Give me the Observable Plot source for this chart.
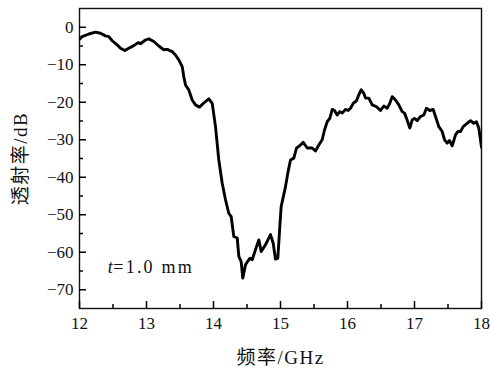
<!DOCTYPE html>
<html>
<head>
<meta charset="utf-8">
<script src="https://cdn.jsdelivr.net/npm/d3@7"></script>
<script src="https://cdn.jsdelivr.net/npm/@observablehq/plot@0.6"></script>
<style>
  html, body { margin: 0; padding: 0; background: #fff; }
  svg { display: block; }
</style>
</head>
<body>
<div id="chart"></div>
<script>
// Frequency (GHz) and transmissivity (dB)
const freq = [
  12.000, 12.040, 12.139, 12.239, 12.313, 12.388, 12.437, 12.488, 12.563, 12.612,
  12.676, 12.736, 12.810, 12.876, 12.910, 12.985, 13.034, 13.109, 13.184, 13.258,
  13.309, 13.384, 13.433, 13.482, 13.533, 13.557, 13.582, 13.631, 13.682, 13.731,
  13.791, 13.855, 13.930, 13.981, 14.030, 14.079, 14.130, 14.179, 14.228, 14.264,
  14.303, 14.354, 14.378, 14.413, 14.437, 14.478, 14.542, 14.578, 14.627, 14.676,
  14.712, 14.776, 14.851, 14.891, 14.925, 14.960, 14.990, 15.010, 15.075, 15.109,
  15.149, 15.199, 15.239, 15.273, 15.339, 15.399, 15.473, 15.522, 15.572, 15.622,
  15.657, 15.697, 15.736, 15.772, 15.806, 15.846, 15.885, 15.921, 15.970, 16.010,
  16.045, 16.085, 16.134, 16.169, 16.204, 16.243, 16.269, 16.318, 16.369, 16.433,
  16.493, 16.542, 16.593, 16.631, 16.667, 16.716, 16.766, 16.816, 16.851, 16.881,
  16.930, 16.966, 17.000, 17.040, 17.090, 17.139, 17.179, 17.228, 17.279, 17.313,
  17.363, 17.413, 17.448, 17.488, 17.522, 17.563, 17.612, 17.646, 17.687, 17.727,
  17.787, 17.836, 17.885, 17.925, 17.960, 18.000
];
const transmissivity = [
  -3.2, -2.5, -1.8, -1.3, -1.6, -2.3, -2.5, -3.6, -4.7, -5.6,
  -6.2, -5.6, -4.9, -4.1, -4.4, -3.4, -3.1, -3.8, -5.0, -6.0,
  -5.9, -6.5, -7.4, -8.7, -10.5, -13.2, -15.4, -16.7, -19.4, -20.7,
  -21.3, -20.2, -19.1, -20.3, -26.5, -35.4, -41.6, -46.0, -49.6, -50.5,
  -55.8, -56.2, -61.1, -62.5, -66.9, -63.3, -61.6, -62.0, -59.3, -56.7,
  -59.8, -58.0, -55.3, -57.6, -61.8, -61.6, -53.1, -47.8, -42.5, -38.9,
  -35.4, -34.9, -32.2, -31.8, -30.7, -32.2, -32.2, -33.0, -31.4, -30.0,
  -27.4, -25.2, -24.3, -21.9, -22.2, -23.4, -22.5, -22.9, -21.9, -22.2,
  -21.6, -20.3, -19.6, -18.0, -16.7, -17.6, -18.9, -18.9, -20.7, -21.2,
  -22.2, -21.0, -21.6, -20.3, -18.5, -19.4, -20.7, -22.5, -22.9, -24.3,
  -26.9, -24.7, -24.3, -24.9, -23.8, -23.4, -21.6, -22.2, -21.9, -23.8,
  -26.5, -27.8, -30.0, -30.9, -30.2, -31.6, -28.7, -27.8, -27.8, -26.5,
  -25.6, -24.9, -25.6, -25.2, -26.9, -32.0
];

const xTicks = [12, 13, 14, 15, 16, 17, 18];
const xMinorTicks = [12.5, 13.5, 14.5, 15.5, 16.5, 17.5];
const yTicks = [0, -10, -20, -30, -40, -50, -60, -70];
const yMinorTicks = [-5, -15, -25, -35, -45, -55, -65];

const xLabel = "频率/GHz";
const yLabel = "透射率/dB";
const noteVar = "t";
const noteRest = "=1.0 mm";

const data = freq.map((f, i) => ({f, v: transmissivity[i]}));
const fmt = d => d < 0 ? "\u2212" + Math.abs(d) : String(d);
const SERIF = "'Liberation Serif', 'Noto Sans CJK SC', serif";

const W = 491, H = 370, ML = 79, MR = 10, MT = 8, MB = 62;
const frameW = W - ML - MR, frameH = H - MT - MB;

const chart = Plot.plot({
  width: W,
  height: H,
  marginLeft: ML,
  marginRight: MR,
  marginTop: MT,
  marginBottom: MB,
  style: {fontSize: "17px", color: "#111", background: "#fff"},
  x: {domain: [12, 18]},
  y: {domain: [-75, 5]},
  marks: [
    Plot.frame({stroke: "#111", strokeWidth: 1.4}),
    Plot.axisX({ticks: xTicks, tickSize: 0, tickPadding: 8, label: null, tickFormat: fmt, fontSize: 17, fontFamily: SERIF}),
    Plot.axisY({ticks: yTicks, tickSize: 0, tickPadding: 6, label: null, tickFormat: fmt, fontSize: 17, fontFamily: SERIF}),
    // inward ticks
    Plot.tickX(xTicks, {x: d => d, insetTop: frameH - 7, stroke: "#000", strokeWidth: 1.5}),
    Plot.tickX(xMinorTicks, {x: d => d, insetTop: frameH - 4, stroke: "#000", strokeWidth: 1.5}),
    Plot.tickY(yTicks, {y: d => d, insetRight: frameW - 7, stroke: "#000", strokeWidth: 1.5}),
    Plot.tickY(yMinorTicks, {y: d => d, insetRight: frameW - 4, stroke: "#000", strokeWidth: 1.5}),
    Plot.line(data, {x: "f", y: "v", stroke: "#000", strokeWidth: 2.9, strokeLinejoin: "round", strokeLinecap: "round", clip: true}),
    Plot.text([noteVar], {x: 12.42, y: -64, text: d => d, textAnchor: "start", lineAnchor: "middle", fontStyle: "italic", fontSize: 18, fontFamily: SERIF}),
    Plot.text([noteRest], {x: 12.505, y: -64, text: d => d, textAnchor: "start", lineAnchor: "middle", fontSize: 18, fontFamily: SERIF}),
    Plot.text([xLabel], {frameAnchor: "bottom", dy: 49, textAnchor: "middle", lineAnchor: "middle", text: d => d, fontSize: 19, fontFamily: SERIF}),
    Plot.text([yLabel], {frameAnchor: "left", dx: -59, rotate: -90, textAnchor: "middle", lineAnchor: "middle", text: d => d, fontSize: 19, fontFamily: SERIF})
  ]
});

// mimic the wider typesetting of the original labels
d3.select(chart).selectAll("text")
  .filter(function () { return this.textContent === noteRest; })
  .style("letter-spacing", "2.2px");
d3.select(chart).selectAll("text")
  .filter(function () { return this.textContent === xLabel || this.textContent === yLabel; })
  .style("letter-spacing", "1.5px");

document.getElementById("chart").appendChild(chart);
</script>
</body>
</html>
